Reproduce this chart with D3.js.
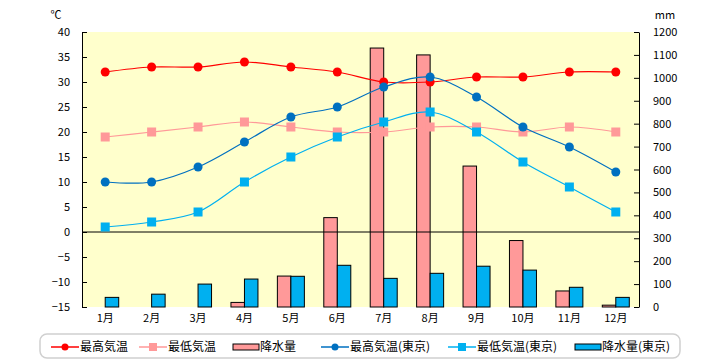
<!DOCTYPE html>
<html><head><meta charset="utf-8">
<script src="https://cdn.jsdelivr.net/npm/d3@7"></script>
<style>
body{margin:0;background:#fff;}
text{font-family:"Noto Sans CJK JP","Noto Sans",sans-serif;font-size:11px;fill:#000;}
</style></head><body>
<svg id="c" width="720" height="360"></svg>
<script>
const months = ["1月","2月","3月","4月","5月","6月","7月","8月","9月","10月","11月","12月"];
const maxTemp = [32,33,33,34,33,32,30,30,31,31,32,32];
const minTemp = [19,20,21,22,21,20,20,21,21,20,21,20];
const precip = [0,0,0,20,135,390,1130,1100,615,290,70,8];
const maxTempTokyo = [10,10,13,18,23,25,29,31,27,21,17,12];
const minTempTokyo = [1,2,4,10,15,19,22,24,20,14,9,4];
const precipTokyo = [42,56,100,122,134,182,125,147,178,161,86,42];
const tempTicks = [40,35,30,25,20,15,10,5,0,-5,-10,-15];
const mmTicks = [1200,1100,1000,900,800,700,600,500,400,300,200,100,0];
const legendLabels = ["最高気温","最低気温","降水量","最高気温(東京)","最低気温(東京)","降水量(東京)"];

const svg = d3.select("#c");
const L=82, R=639, T=32, B=307;
const x = d3.scaleBand().domain(months).range([L,R]).padding(0);
const yT = d3.scaleLinear().domain([-15,40]).range([B,T]);
const yP = d3.scaleLinear().domain([0,1200]).range([B,T]);

svg.append("rect").attr("x",L).attr("y",T).attr("width",R-L).attr("height",B-T).attr("fill","#FFFFCC");

// bars
const bw = 13.5;
const cx = m => x(m)+x.bandwidth()/2;
svg.append("g").selectAll("rect").data(months).join("rect")
  .filter((d,i)=>precip[i]>0)
  .attr("x",d=>cx(d)-bw).attr("width",bw)
  .attr("y",d=>yP(precip[months.indexOf(d)])).attr("height",d=>B-yP(precip[months.indexOf(d)]))
  .attr("fill","#FF9999").attr("stroke","#000").attr("stroke-width",1);
svg.append("g").selectAll("rect").data(months).join("rect")
  .attr("x",d=>cx(d)).attr("width",bw)
  .attr("y",(d,i)=>yP(precipTokyo[i])).attr("height",(d,i)=>B-yP(precipTokyo[i]))
  .attr("fill","#00B0F0").attr("stroke","#000").attr("stroke-width",1);

// zero line
svg.append("line").attr("x1",L).attr("x2",R).attr("y1",yT(0)).attr("y2",yT(0)).attr("stroke","#000");

// axes
const gl = svg.append("g").attr("transform",`translate(${L},0)`)
  .call(d3.axisLeft(yT).tickValues(tempTicks).tickSizeInner(-5).tickSizeOuter(0).tickPadding(12).tickFormat(d=>d<0?"\u2212"+Math.abs(d):String(d)));
const gr = svg.append("g").attr("transform",`translate(${R},0)`)
  .call(d3.axisRight(yP).tickValues(mmTicks).tickSizeInner(-5).tickSizeOuter(0).tickPadding(14).tickFormat(d=>String(d)));
[gl,gr].forEach(g=>{g.select(".domain").attr("stroke","#000");g.selectAll("text").style("font-size","11px").attr("font-family",null);});
const gb = svg.append("g").attr("transform",`translate(0,${B})`)
  .call(d3.axisBottom(x).tickSize(0).tickPadding(7));
gb.select(".domain").remove();
gb.selectAll("text").style("font-size","11px").attr("font-family",null);

svg.append("text").attr("x",56).attr("y",19).attr("text-anchor","middle").text("℃");
svg.append("text").attr("x",665).attr("y",19).attr("text-anchor","middle").text("mm");

// lines
const series = [
  {v:maxTemp, c:"#FF0000", s:"circle"},
  {v:minTemp, c:"#FF9999", s:"square"},
  {v:maxTempTokyo, c:"#0070C0", s:"circle"},
  {v:minTempTokyo, c:"#00B0F0", s:"square"}
];
const line = d3.line().x((d,i)=>cx(months[i])).y(d=>yT(d)).curve(d3.curveCatmullRom.alpha(0.5));
series.forEach(s=>{
  svg.append("path").attr("d",line(s.v)).attr("fill","none").attr("stroke",s.c).attr("stroke-width",1.2);
  const g = svg.append("g");
  if(s.s==="circle"){
    g.selectAll("circle").data(s.v).join("circle").attr("cx",(d,i)=>cx(months[i])).attr("cy",d=>yT(d)).attr("r",4.5).attr("fill",s.c);
  } else {
    g.selectAll("rect").data(s.v).join("rect").attr("x",(d,i)=>cx(months[i])-4.5).attr("y",d=>yT(d)-4.5).attr("width",9).attr("height",9).attr("fill",s.c);
  }
});

// legend
svg.append("rect").attr("x",40).attr("y",334).attr("width",640).attr("height",24).attr("rx",7)
  .attr("fill","#fff").attr("stroke","#d0d0d0").attr("stroke-width",1.5);
const lg = svg.append("g");
const items = [
  {t:"line",c:"#FF0000",m:"circle",x:51},
  {t:"line",c:"#FF9999",m:"square",x:139},
  {t:"bar",c:"#FF9999",x:232},
  {t:"line",c:"#0070C0",m:"circle",x:321},
  {t:"line",c:"#00B0F0",m:"square",x:448},
  {t:"bar",c:"#00B0F0",x:574}
];
items.forEach((it,i)=>{
  const yy = 347;
  if(it.t==="line"){
    lg.append("line").attr("x1",it.x).attr("x2",it.x+28).attr("y1",yy).attr("y2",yy).attr("stroke",it.c).attr("stroke-width",1.5);
    if(it.m==="circle") lg.append("circle").attr("cx",it.x+14).attr("cy",yy).attr("r",3.5).attr("fill",it.c);
    else lg.append("rect").attr("x",it.x+10).attr("y",yy-4).attr("width",8).attr("height",8).attr("fill",it.c);
    lg.append("text").attr("x",it.x+29).attr("y",yy+4).style("font-size","12px").text(legendLabels[i]);
  } else {
    lg.append("rect").attr("x",it.x+1).attr("y",yy-3).attr("width",26).attr("height",6).attr("fill",it.c).attr("stroke","#000");
    lg.append("text").attr("x",it.x+28).attr("y",yy+4).style("font-size","12px").text(legendLabels[i]);
  }
});
</script></body></html>
